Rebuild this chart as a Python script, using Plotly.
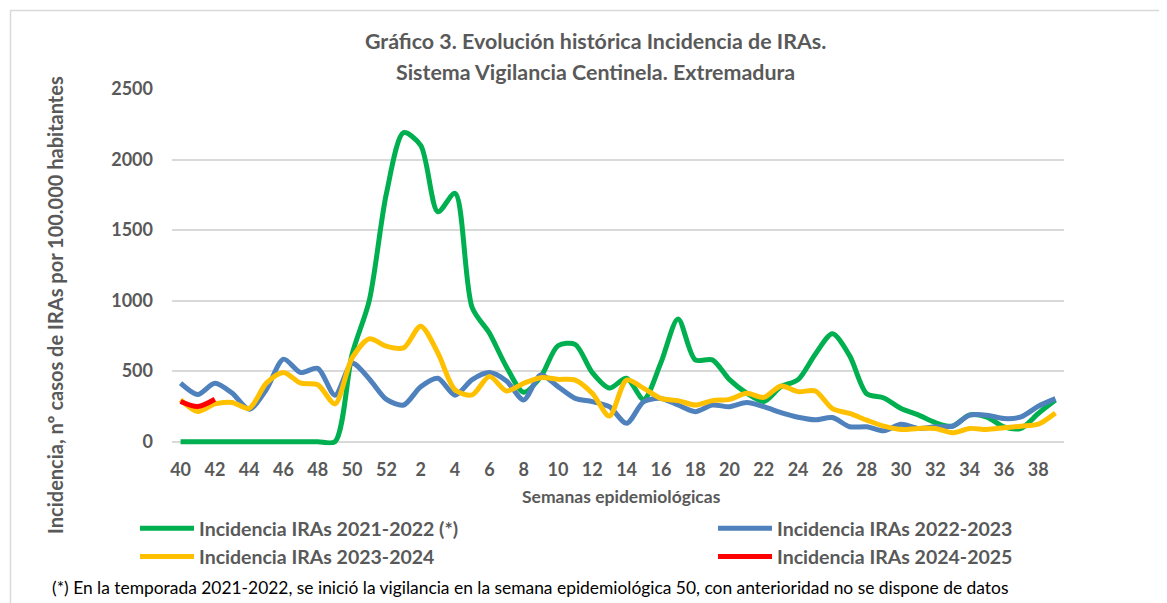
import plotly.graph_objects as go

weeks = [str(w) for w in list(range(40, 53)) + list(range(1, 40))]

ira_2021_2022 = [0, 0, 0, 0, 0, 0, 0, 0, 0, 0,
                 620, 1000, 1760, 2190, 2100, 1630, 1760, 950, 770, 530,
                 350, 460, 680, 690, 490, 380, 450, 300, 560, 870,
                 580, 580, 440, 345, 285, 390, 440, 620, 765, 610,
                 340, 310, 235, 190, 135, 110, 190, 175, 105, 95,
                 200, 295]
ira_2022_2023 = [415, 335, 415, 345, 230, 370, 585, 490, 520, 330,
                 555, 445, 300, 260, 390, 450, 330, 440, 490, 430,
                 296, 473, 390, 307, 284, 248, 130, 284, 307, 260,
                 213, 260, 248, 277, 248, 206, 173, 155, 171, 106,
                 106, 77, 124, 94, 106, 110, 188, 188, 164, 176,
                 251, 305]
ira_2023_2024 = [297, 214, 268, 278, 237, 415, 491, 415, 404, 268,
                 594, 729, 677, 665, 819, 629, 368, 332, 463, 360,
                 414, 454, 442, 437, 343, 182, 437, 378, 307, 291,
                 260, 291, 300, 343, 314, 395, 355, 359, 235, 200,
                 153, 110, 87, 94, 94, 63, 94, 87, 99, 110,
                 124, 204]
ira_2024_2025 = [285, 249, 301]

series = [
    ("Incidencia IRAs 2021-2022 (*)", ira_2021_2022, "#00B050", "legend"),
    ("Incidencia IRAs 2022-2023", ira_2022_2023, "#4F81BD", "legend2"),
    ("Incidencia IRAs 2023-2024", ira_2023_2024, "#FFC000", "legend"),
    ("Incidencia IRAs 2024-2025", ira_2024_2025, "#FF0000", "legend2"),
]

W, H = 1167, 603
OFF = 8  # page body margin offset of the figure
FONT = "Lato"
GREY = "#595959"

fig = go.Figure()
for name, vals, col, leg in series:
    fig.add_trace(go.Scatter(
        x=weeks[:len(vals)], y=vals, name=name, mode="lines", legend=leg,
        line=dict(color=col, width=5, shape="spline", smoothing=0.8),
        hoverinfo="x+y+name"))

px_x = lambda p: (p - OFF) / W
px_y = lambda p: 1 - (p - OFF) / H

legend_style = dict(
    orientation="v", xanchor="left", yanchor="top", itemwidth=54,
    font=dict(family=FONT, size=19.5, color=GREY, weight="bold"),
    bgcolor="rgba(0,0,0,0)", borderwidth=0, tracegroupgap=0,
)

fig.update_layout(
    width=W, height=H,
    margin=dict(l=0, r=0, t=0, b=0, autoexpand=False),
    paper_bgcolor="white", plot_bgcolor="white",
    font=dict(family=FONT, color=GREY),
    showlegend=True,
    legend=dict(x=px_x(135), y=px_y(509), **legend_style),
    legend2=dict(x=px_x(713), y=px_y(509), **legend_style),
    xaxis=dict(
        type="category", domain=[px_x(172), px_x(1064)], range=[-0.5, 51.5],
        tickmode="linear", tick0=0, dtick=2,
        showgrid=False, showline=False, zeroline=False, ticks="",
        ticklabelstandoff=12, automargin=False,
        tickfont=dict(family=FONT, size=18, color=GREY, weight="bold"),
    ),
    yaxis=dict(
        domain=[px_y(445.23), px_y(89)], range=[-25, 2500],
        tickmode="linear", tick0=0, dtick=500,
        showgrid=True, gridcolor="#D9D9D9", gridwidth=1.5,
        zeroline=False, showline=False, ticks="",
        ticklabelstandoff=18, automargin=False,
        tickfont=dict(family=FONT, size=18, color=GREY, weight="bold"),
    ),
)

annotations = [
    dict(text="Gráfico 3. Evolución histórica Incidencia de IRAs.", x=px_x(595), y=px_y(41),
         font=dict(size=21.4, weight="bold", color=GREY)),
    dict(text="Sistema Vigilancia Centinela. Extremadura", x=px_x(595), y=px_y(72),
         font=dict(size=21.4, weight="bold", color=GREY)),
    dict(text="Semanas epidemiológicas", x=px_x(621), y=px_y(496),
         font=dict(size=17.5, weight="bold", color=GREY)),
    dict(text="Incidencia, nº casos de IRAs por 100.000 habitantes", x=px_x(55), y=px_y(305),
         textangle=-90, font=dict(size=20, weight="bold", color=GREY)),
]
for a in annotations:
    fig.add_annotation(xref="paper", yref="paper", xanchor="center", yanchor="middle",
                       showarrow=False, **a)
fig.add_annotation(
    text="(*) En la temporada 2021-2022, se inició la vigilancia en la semana epidemiológica 50, con anterioridad no se dispone de datos",
    xref="paper", yref="paper", x=px_x(50), y=px_y(587), xanchor="left", yanchor="middle",
    showarrow=False, font=dict(family=FONT, size=17.4, color="#000000"))

fig.add_shape(type="rect", xref="paper", yref="paper",
              x0=px_x(10.5), x1=1.05, y0=-0.05, y1=px_y(10.5),
              line=dict(color="#D9D9D9", width=1.5), fillcolor="rgba(0,0,0,0)", layer="below")

fig.write_html("out.html")
